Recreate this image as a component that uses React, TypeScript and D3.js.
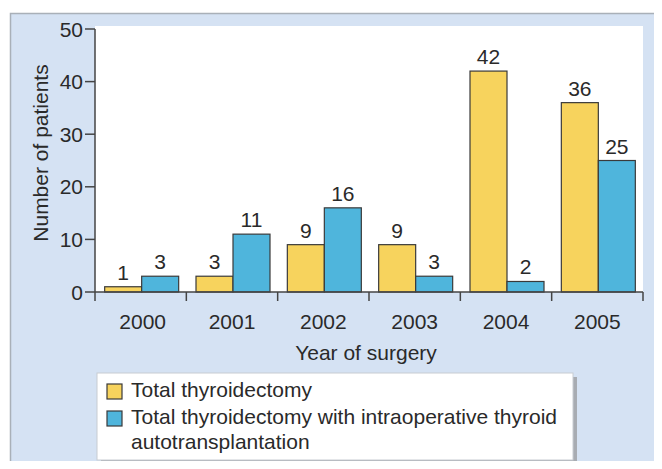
import { useEffect, useRef } from 'react';
import * as d3 from 'd3';

const years = ['2000', '2001', '2002', '2003', '2004', '2005'];
const totalThyroidectomy = [1, 3, 9, 9, 42, 36];
const withAutotransplant = [3, 11, 16, 3, 2, 25];
const yTicks = [0, 10, 20, 30, 40, 50];
const seriesNames = [
  ['Total thyroidectomy'],
  ['Total thyroidectomy with intraoperative thyroid', 'autotransplantation'],
];
const colors = ['#f7d35d', '#4fb5dc'];

const W = 662;
const H = 469;
const FONT = 'Liberation Sans, Arial, sans-serif';
const FS = 21;

export default function App() {
  const svgRef = useRef<SVGSVGElement>(null);

  useEffect(() => {
    if (!svgRef.current) return;
    const svg = d3.select(svgRef.current);
    svg.selectAll('*').remove();

    // outer panel
    svg.append('rect').attr('x', 0).attr('y', 0).attr('width', W).attr('height', H).attr('fill', '#fff');
    svg.append('rect')
      .attr('x', 10.5).attr('y', 13.5).attr('width', W).attr('height', H)
      .attr('fill', '#d5e2f3').attr('stroke', '#a9b0b8').attr('stroke-width', 1.5);

    const left = 95, right = 643, top = 26, bottom = 292;
    svg.append('rect')
      .attr('x', left).attr('y', top).attr('width', right - left).attr('height', bottom - top)
      .attr('fill', '#fff');

    const x = d3.scaleBand<string>().domain(years).range([left, right]);
    const y = d3.scaleLinear().domain([0, 50]).range([bottom, 29]);
    const barW = 37;
    const offset = (x.bandwidth() - barW * 2) / 2 + 1;

    const series = [totalThyroidectomy, withAutotransplant];
    series.forEach((vals, si) => {
      const g = svg.append('g');
      g.selectAll('rect')
        .data(vals)
        .enter()
        .append('rect')
        .attr('x', (_, i) => (x(years[i]) as number) + offset + si * barW)
        .attr('y', d => y(d))
        .attr('width', barW)
        .attr('height', d => y(0) - y(d))
        .attr('fill', colors[si])
        .attr('stroke', '#3a3a3a')
        .attr('stroke-width', 1.2);
      g.selectAll('text')
        .data(vals)
        .enter()
        .append('text')
        .attr('x', (_, i) => (x(years[i]) as number) + offset + si * barW + barW / 2)
        .attr('y', d => y(d) - 7)
        .attr('text-anchor', 'middle')
        .attr('font-family', FONT)
        .attr('font-size', FS)
        .attr('fill', '#2a2a2a')
        .text(d => d);
    });

    const axisColor = '#444';
    // y axis
    svg.append('line').attr('x1', left).attr('x2', left).attr('y1', y(50)).attr('y2', bottom + 9)
      .attr('stroke', axisColor).attr('stroke-width', 1.5);
    yTicks.forEach(t => {
      svg.append('line').attr('x1', left - 10).attr('x2', left).attr('y1', y(t)).attr('y2', y(t))
        .attr('stroke', axisColor).attr('stroke-width', 1.5);
      svg.append('text').attr('x', left - 12).attr('y', y(t) + 7.5)
        .attr('text-anchor', 'end').attr('font-family', FONT).attr('font-size', FS).attr('fill', '#2a2a2a')
        .text(t);
    });
    // x axis
    svg.append('line').attr('x1', left).attr('x2', right).attr('y1', bottom).attr('y2', bottom)
      .attr('stroke', axisColor).attr('stroke-width', 1.5);
    years.forEach((yr, i) => {
      const bx = (x(yr) as number) + x.bandwidth();
      svg.append('line').attr('x1', bx).attr('x2', bx).attr('y1', bottom).attr('y2', bottom + 9)
        .attr('stroke', axisColor).attr('stroke-width', 1.5);
      svg.append('text').attr('x', (x(yr) as number) + x.bandwidth() / 2 + (i === 0 ? 2 : 0)).attr('y', 329)
        .attr('text-anchor', 'middle').attr('font-family', FONT).attr('font-size', FS).attr('fill', '#2a2a2a')
        .text(yr);
    });

    svg.append('text').attr('x', 366).attr('y', 360)
      .attr('text-anchor', 'middle').attr('font-family', FONT).attr('font-size', FS).attr('fill', '#2a2a2a')
      .text('Year of surgery');
    svg.append('text').attr('transform', `translate(48,153) rotate(-90)`)
      .attr('text-anchor', 'middle').attr('font-family', FONT).attr('font-size', FS).attr('fill', '#2a2a2a')
      .text('Number of patients');

    // legend
    const lx = 97, ly = 373, lw = 476, lh = 87;
    svg.append('rect').attr('x', lx + 4).attr('y', ly + 4).attr('width', lw).attr('height', lh).attr('fill', '#a8acb2');
    svg.append('rect').attr('x', lx).attr('y', ly).attr('width', lw).attr('height', lh)
      .attr('fill', '#fff').attr('stroke', '#c8ccd2').attr('stroke-width', 1);
    const rowY = [397, 424];
    seriesNames.forEach((lines, si) => {
      svg.append('rect').attr('x', 107).attr('y', rowY[si] - 13).attr('width', 15).attr('height', 15)
        .attr('fill', colors[si]).attr('stroke', '#3a3a3a').attr('stroke-width', 1.2);
      lines.forEach((ln, li) => {
        svg.append('text').attr('x', 131).attr('y', rowY[si] + li * 25)
          .attr('font-family', FONT).attr('font-size', FS).attr('fill', '#2a2a2a').text(ln);
      });
    });
  }, []);

  return (
    <div style={{ width: `${W}px`, height: `${H}px`, margin: -8 }}>
      <svg ref={svgRef} width={W} height={H}></svg>
    </div>
  );
}
